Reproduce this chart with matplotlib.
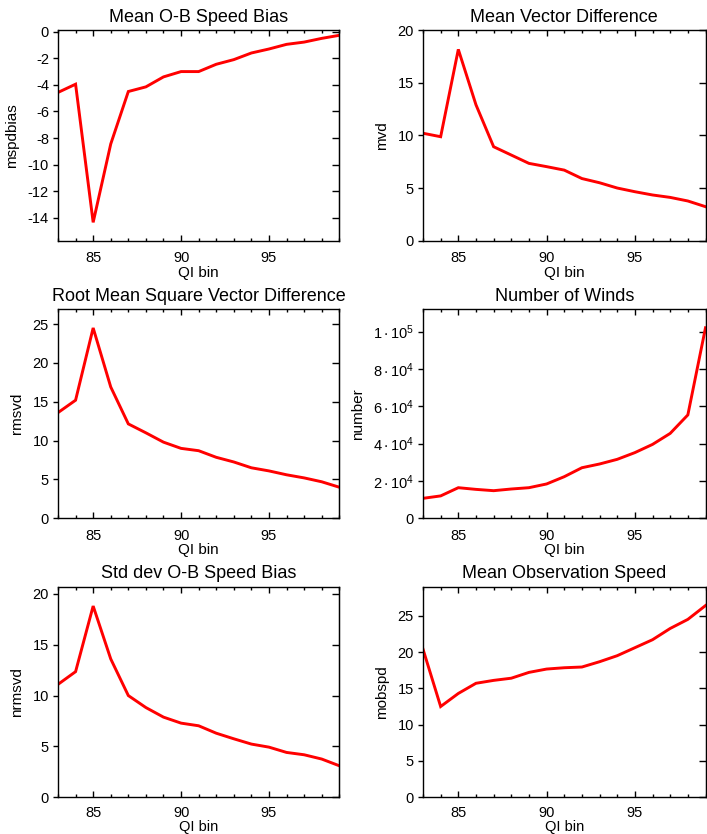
import matplotlib
matplotlib.use("Agg")
import matplotlib.pyplot as plt
from matplotlib.ticker import MultipleLocator, NullFormatter, FixedLocator

plt.rcParams['font.family'] = ['Liberation Sans', 'DejaVu Sans']
plt.rcParams['mathtext.fontset'] = 'custom'
plt.rcParams['mathtext.rm'] = 'Liberation Sans'
plt.rcParams['mathtext.it'] = 'Liberation Sans:italic'
plt.rcParams['axes.unicode_minus'] = False

qi_bin = [83, 84, 85, 86, 87, 88, 89, 90, 91, 92, 93, 94, 95, 96, 97, 98, 99]

mspdbias = [-4.57, -3.95, -14.35, -8.45, -4.5, -4.15, -3.4, -3.0, -3.0, -2.45,
            -2.1, -1.6, -1.3, -0.95, -0.78, -0.5, -0.27]
mvd = [10.2, 9.87, 18.16, 12.9, 8.92, 8.13, 7.34, 7.03, 6.7, 5.9, 5.5, 5.0,
       4.65, 4.34, 4.11, 3.77, 3.23]
rmsvd = [13.6, 15.2, 24.5, 16.9, 12.15, 11.0, 9.8, 9.0, 8.7, 7.85, 7.25, 6.5,
         6.1, 5.6, 5.2, 4.7, 4.0]
number = [10700, 12000, 16400, 15500, 14800, 15700, 16400, 18400, 22300, 27100,
          29100, 31600, 35200, 39600, 45500, 55400, 102100]
nrmsvd = [11.1, 12.35, 18.8, 13.6, 10.0, 8.82, 7.88, 7.29, 7.03, 6.3, 5.75,
          5.23, 4.93, 4.41, 4.18, 3.76, 3.1]
mobspd = [20.4, 12.5, 14.3, 15.7, 16.1, 16.4, 17.2, 17.66, 17.84, 17.94, 18.67,
          19.5, 20.6, 21.7, 23.25, 24.5, 26.4]

titles = ["Mean O-B Speed Bias", "Mean Vector Difference",
          "Root Mean Square Vector Difference", "Number of Winds",
          "Std dev O-B Speed Bias", "Mean Observation Speed"]
ylabels = ["mspdbias", "mvd", "rmsvd", "number", "nrmsvd", "mobspd"]
xlabel = "QI bin"

number_ticks = [0, 20000, 40000, 60000, 80000, 100000]
number_ticklabels = ["0", r"$\mathregular{2\cdot10^{4}}$", r"$\mathregular{4\cdot10^{4}}$",
                     r"$\mathregular{6\cdot10^{4}}$", r"$\mathregular{8\cdot10^{4}}$",
                     r"$\mathregular{1\cdot10^{5}}$"]

series = [mspdbias, mvd, rmsvd, number, nrmsvd, mobspd]
ylims = [(-15.73, 0.13), (0, 20.0), (0, 26.9), (0, 112000), (0, 20.7), (0, 29.0)]
ysteps = [2, 5, 5, None, 5, 5]

W, H = 707, 834
fig = plt.figure(figsize=(W / 100, H / 100), dpi=100)

col_x = [(58, 339.3), (423, 705.5)]
row_y = [(30, 240.7), (309.3, 518.3), (586.7, 797.3)]

for i in range(6):
    r, c = divmod(i, 2)
    x0, x1 = col_x[c]
    y0, y1 = row_y[r]
    last = (r == 2)
    ax = fig.add_axes([x0 / W, 1 - y1 / H, (x1 - x0) / W, (y1 - y0) / H])
    ax.plot(qi_bin, series[i], color='#ff0000', lw=2.1, solid_joinstyle='miter')
    ax.set_xlim(83, 99)
    ax.set_ylim(*ylims[i])
    ax.xaxis.set_major_locator(MultipleLocator(5))
    ax.xaxis.set_minor_locator(MultipleLocator(1))
    ax.tick_params(axis='x', which='both', direction='in', top=True, bottom=True,
                   labelsize=10.5, pad=(6 if last else 7.5), width=1)
    ax.tick_params(axis='x', which='major', length=4.5)
    ax.tick_params(axis='x', which='minor', length=2.5)
    if ysteps[i] is None:
        ax.yaxis.set_major_locator(FixedLocator(number_ticks))
        ax.set_yticklabels(number_ticklabels)
    else:
        ax.yaxis.set_major_locator(MultipleLocator(ysteps[i]))
    ax.tick_params(axis='y', which='major', direction='out', left=True, right=False,
                   length=3.5, width=1, labelsize=10.5, pad=3)
    sec = ax.secondary_yaxis('right')
    sec.set_yticks(ax.get_yticks())
    sec.yaxis.set_major_formatter(NullFormatter())
    sec.tick_params(axis='y', direction='in', length=5, width=1)
    for s in ax.spines.values():
        s.set_linewidth(1)
    ax.set_title(titles[i], fontsize=13, pad=6)
    ax.set_xlabel(xlabel, fontsize=(10.5 if last else 11), labelpad=(0 if last else 0.5))
    ax.set_ylabel(ylabels[i], fontsize=11, labelpad=6)

fig.savefig("out.png", dpi=100)
